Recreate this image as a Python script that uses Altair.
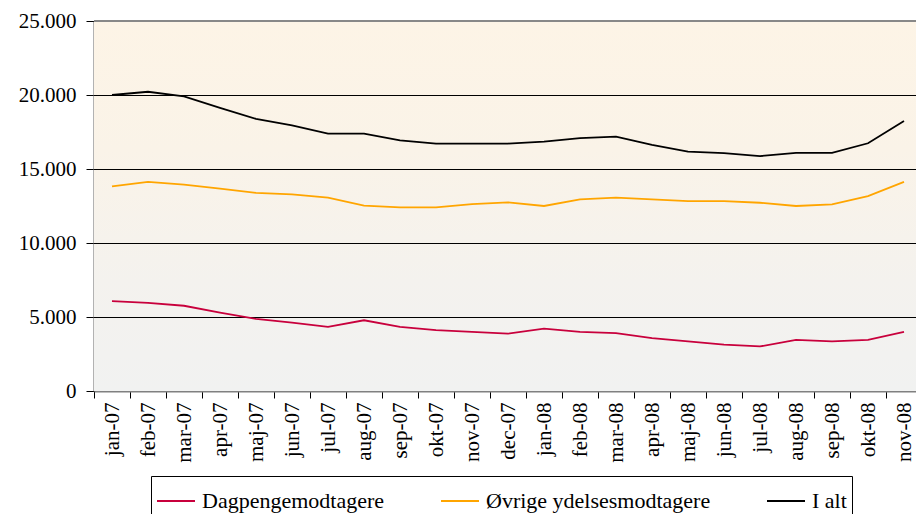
import altair as alt
import pandas as pd

months = ["jan-07", "feb-07", "mar-07", "apr-07", "maj-07", "jun-07", "jul-07", "aug-07",
          "sep-07", "okt-07", "nov-07", "dec-07", "jan-08", "feb-08", "mar-08", "apr-08",
          "maj-08", "jun-08", "jul-08", "aug-08", "sep-08", "okt-08", "nov-08"]
dagpenge = [6070, 5960, 5760, 5290, 4870, 4620, 4330, 4780, 4330, 4110, 4000, 3880,
            4220, 4000, 3910, 3570, 3350, 3130, 3010, 3460, 3350, 3460, 4000]
ovrige = [13820, 14130, 13950, 13680, 13390, 13280, 13060, 12520, 12410, 12410, 12630, 12750,
          12500, 12950, 13060, 12950, 12830, 12830, 12720, 12500, 12610, 13170, 14130]
ialt = [20000, 20220, 19910, 19130, 18390, 17950, 17390, 17390, 16940, 16720, 16720, 16720,
        16850, 17080, 17190, 16630, 16180, 16070, 15870, 16090, 16090, 16740, 18240]
series_names = ["Dagpengemodtagere", "Øvrige ydelsesmodtagere", "I alt"]
series_colors = ["#C8003C", "#FFA500", "#000000"]
y_ticks = [0, 5000, 10000, 15000, 20000, 25000]
grid_values = [5000, 10000, 15000, 20000]

W = 822
H = 370
X_RANGE = 828
FONT = "Liberation Serif"

rows = []
for name, vals in zip(series_names, [dagpenge, ovrige, ialt]):
    for m, v in zip(months, vals):
        rows.append({"month": m, "series": name, "value": v})
df = pd.DataFrame(rows)

yscale = alt.Scale(domain=[0, 25000], nice=False)
yaxis = alt.Axis(values=y_ticks, grid=False, title=None,
                 labelExpr="replace(format(datum.value, ',d'), ',', '.')",
                 labelFont=FONT, labelFontSize=21, labelColor="black", labelPadding=10,
                 tickColor="black", tickSize=8, tickWidth=1,
                 domainColor="#666666", domainWidth=2)

gradient = alt.LinearGradient(
    gradient="linear",
    stops=[alt.GradientStop(offset=0, color="#FDF4E6"),
           alt.GradientStop(offset=0.35, color="#FAF3E8"),
           alt.GradientStop(offset=0.7, color="#F4F2EE"),
           alt.GradientStop(offset=1, color="#F1F2F1")],
    x1=0, x2=0, y1=0, y2=1)

bg = alt.Chart(alt.Data(values=[{"lo": 0, "hi": 25000}])).mark_rect(fill=gradient).encode(
    x=alt.value(0), x2=alt.value(W),
    y=alt.Y("lo:Q", scale=yscale, axis=yaxis), y2="hi:Q")

grid = alt.Chart(pd.DataFrame({"v": grid_values})).mark_rule(
    color="black", strokeWidth=1, yOffset=0.5).encode(
    x=alt.value(0), x2=alt.value(W),
    y=alt.Y("v:Q", scale=yscale, axis=yaxis))

top = alt.Chart(alt.Data(values=[{"t": 25000}])).mark_rule(color="#888888", strokeWidth=2).encode(
    x=alt.value(0), x2=alt.value(W),
    y=alt.Y("t:Q", scale=yscale, axis=yaxis))

lines = alt.Chart(df).mark_line(strokeWidth=1.8).encode(
    x=alt.X("month:N", sort=months,
            scale=alt.Scale(domain=months, range=[0, X_RANGE], paddingInner=0, paddingOuter=0),
            axis=alt.Axis(title=None, labelAngle=270, labelFont=FONT, labelFontSize=21,
                          labelColor="black", labelPadding=4, tickBand="extent",
                          tickSize=7, tickColor="black", domainColor="#808080",
                          domainWidth=2, grid=False)),
    y=alt.Y("value:Q", scale=yscale, axis=yaxis),
    color=alt.Color("series:N",
                    scale=alt.Scale(domain=series_names, range=series_colors),
                    legend=alt.Legend(orient="none", legendX=57, legendY=455,
                                      direction="horizontal", title=None,
                                      symbolType="stroke", symbolSize=1444,
                                      symbolStrokeWidth=2, labelFont=FONT,
                                      labelFontSize=22, labelColor="black",
                                      labelLimit=0, labelOffset=6, columnPadding=52,
                                      strokeColor="black", fillColor="white",
                                      padding=5)),
    order=alt.Order("series:N"))

chart = alt.layer(bg, grid, top, lines).properties(
    width=W, height=H,
    autosize=alt.AutoSizeParams(type="none"),
    padding={"left": 86, "top": 13, "right": 0, "bottom": 123},
    background="white",
).configure_view(stroke=None)

chart.save("out.html", embed_options={"renderer": "svg", "actions": False})
